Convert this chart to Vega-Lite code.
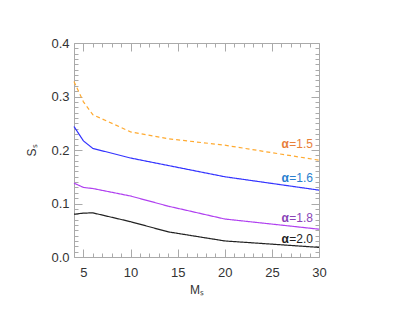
{
  "$schema": "https://vega.github.io/schema/vega-lite/v6.json",
  "width": 245,
  "height": 214,
  "autosize": "none",
  "padding": {"left": 74, "top": 43, "right": 96, "bottom": 55},
  "background": "white",
  "config": {
    "view": {"stroke": null},
    "font": "Liberation Sans",
    "axis": {"grid": false, "domainColor": "#aaaaaa", "tickColor": "#aaaaaa", "labelColor": "#333333", "titleColor": "#333333", "labelFont": "Liberation Sans", "titleFont": "Liberation Sans", "labelFontSize": 13, "titleFontSize": 12, "titleFontWeight": "normal"}
  },
  "datasets": {
    "curves": [
      {"M": 4, "S": 0.328, "a": "1.5"}, {"M": 5, "S": 0.29, "a": "1.5"}, {"M": 6, "S": 0.266, "a": "1.5"}, {"M": 10, "S": 0.234, "a": "1.5"}, {"M": 14, "S": 0.221, "a": "1.5"}, {"M": 20, "S": 0.209, "a": "1.5"}, {"M": 30, "S": 0.181, "a": "1.5"},
      {"M": 4, "S": 0.244, "a": "1.6"}, {"M": 5, "S": 0.217, "a": "1.6"}, {"M": 6, "S": 0.203, "a": "1.6"}, {"M": 10, "S": 0.185, "a": "1.6"}, {"M": 14, "S": 0.171, "a": "1.6"}, {"M": 20, "S": 0.150, "a": "1.6"}, {"M": 30, "S": 0.125, "a": "1.6"},
      {"M": 4, "S": 0.138, "a": "1.8"}, {"M": 5, "S": 0.130, "a": "1.8"}, {"M": 6, "S": 0.128, "a": "1.8"}, {"M": 10, "S": 0.114, "a": "1.8"}, {"M": 14, "S": 0.095, "a": "1.8"}, {"M": 20, "S": 0.071, "a": "1.8"}, {"M": 30, "S": 0.052, "a": "1.8"},
      {"M": 4, "S": 0.080, "a": "2.0"}, {"M": 5, "S": 0.082, "a": "2.0"}, {"M": 6, "S": 0.0825, "a": "2.0"}, {"M": 10, "S": 0.066, "a": "2.0"}, {"M": 14, "S": 0.047, "a": "2.0"}, {"M": 20, "S": 0.030, "a": "2.0"}, {"M": 30, "S": 0.018, "a": "2.0"}
    ],
    "labels": [
      {"M": 30, "S": 0.211, "a": "1.5", "t": "=1.5"},
      {"M": 30, "S": 0.148, "a": "1.6", "t": "=1.6"},
      {"M": 30, "S": 0.073, "a": "1.8", "t": "=1.8"},
      {"M": 30, "S": 0.033, "a": "2.0", "t": "=2.0"}
    ]
  },
  "resolve": {"axis": {"x": "independent", "y": "independent"}, "scale": {"color": "independent"}},
  "layer": [
    {
      "data": {"name": "curves"},
      "mark": {"type": "line", "strokeWidth": 1.2},
      "encoding": {
        "x": {"field": "M", "type": "quantitative", "scale": {"domain": [4, 30], "nice": false, "zero": false},
          "axis": {"orient": "bottom", "title": "Mₛ", "titlePadding": 5, "values": [4,5,6,7,8,9,10,11,12,13,14,15,16,17,18,19,20,21,22,23,24,25,26,27,28,29,30],
            "labelExpr": "datum.value % 5 === 0 ? datum.label : ''", "labelPadding": 17, "labelFlush": false,
            "tickSize": {"condition": {"test": "datum.value % 5 === 0", "value": -8}, "value": -4}}},
        "y": {"field": "S", "type": "quantitative", "scale": {"domain": [0, 0.4], "nice": false},
          "axis": {"orient": "left", "title": "Sₛ", "titlePadding": 12, "values": [0,0.01,0.02,0.03,0.04,0.05,0.06,0.07,0.08,0.09,0.1,0.11,0.12,0.13,0.14,0.15,0.16,0.17,0.18,0.19,0.2,0.21,0.22,0.23,0.24,0.25,0.26,0.27,0.28,0.29,0.3,0.31,0.32,0.33,0.34,0.35,0.36,0.37,0.38,0.39,0.4],
            "labelExpr": "abs(datum.value*10 - round(datum.value*10)) < 0.001 ? format(datum.value, '.1f') : ''", "labelPadding": 13, "labelFlush": false,
            "tickSize": {"condition": {"test": "abs(datum.value*10 - round(datum.value*10)) < 0.001", "value": -8}, "value": -4}}},
        "color": {"field": "a", "type": "nominal", "legend": null, "scale": {"domain": ["1.5", "1.6", "1.8", "2.0"], "range": ["#ffaa30", "#3333ff", "#b040f0", "#222222"]}},
        "strokeDash": {"field": "a", "type": "nominal", "legend": null, "scale": {"domain": ["1.5", "1.6", "1.8", "2.0"], "range": [[4, 3], [1, 0], [1, 0], [1, 0]]}}
      }
    },
    {
      "data": {"name": "curves"},
      "mark": {"type": "point", "opacity": 0},
      "encoding": {
        "x": {"field": "M", "type": "quantitative", "scale": {"domain": [4, 30], "nice": false, "zero": false},
          "axis": {"orient": "top", "title": null, "labels": false, "values": [4,5,6,7,8,9,10,11,12,13,14,15,16,17,18,19,20,21,22,23,24,25,26,27,28,29,30],
            "tickSize": {"condition": {"test": "datum.value % 5 === 0", "value": -8}, "value": -4}}},
        "y": {"field": "S", "type": "quantitative", "scale": {"domain": [0, 0.4], "nice": false},
          "axis": {"orient": "right", "title": null, "labels": false, "values": [0,0.01,0.02,0.03,0.04,0.05,0.06,0.07,0.08,0.09,0.1,0.11,0.12,0.13,0.14,0.15,0.16,0.17,0.18,0.19,0.2,0.21,0.22,0.23,0.24,0.25,0.26,0.27,0.28,0.29,0.3,0.31,0.32,0.33,0.34,0.35,0.36,0.37,0.38,0.39,0.4],
            "tickSize": {"condition": {"test": "abs(datum.value*10 - round(datum.value*10)) < 0.001", "value": -8}, "value": -4}}}
      }
    },
    {
      "data": {"name": "labels"},
      "mark": {"type": "text", "align": "right", "baseline": "middle", "dx": -6, "fontSize": 12},
      "encoding": {
        "x": {"field": "M", "type": "quantitative", "scale": {"domain": [4, 30], "nice": false, "zero": false}, "axis": null},
        "y": {"field": "S", "type": "quantitative", "scale": {"domain": [0, 0.4], "nice": false}, "axis": null},
        "text": {"field": "t"},
        "color": {"field": "a", "type": "nominal", "legend": null, "scale": {"domain": ["1.5", "1.6", "1.8", "2.0"], "range": ["#e8803a", "#2a7fd0", "#8a45b8", "#222222"]}}
      }
    },
    {
      "data": {"name": "labels"},
      "mark": {"type": "text", "align": "right", "baseline": "middle", "dx": -30, "fontSize": 12, "fontWeight": "bold", "text": "α"},
      "encoding": {
        "x": {"field": "M", "type": "quantitative", "scale": {"domain": [4, 30], "nice": false, "zero": false}, "axis": null},
        "y": {"field": "S", "type": "quantitative", "scale": {"domain": [0, 0.4], "nice": false}, "axis": null},
        "color": {"field": "a", "type": "nominal", "legend": null, "scale": {"domain": ["1.5", "1.6", "1.8", "2.0"], "range": ["#e8803a", "#2a7fd0", "#8a45b8", "#222222"]}}
      }
    }
  ]
}
